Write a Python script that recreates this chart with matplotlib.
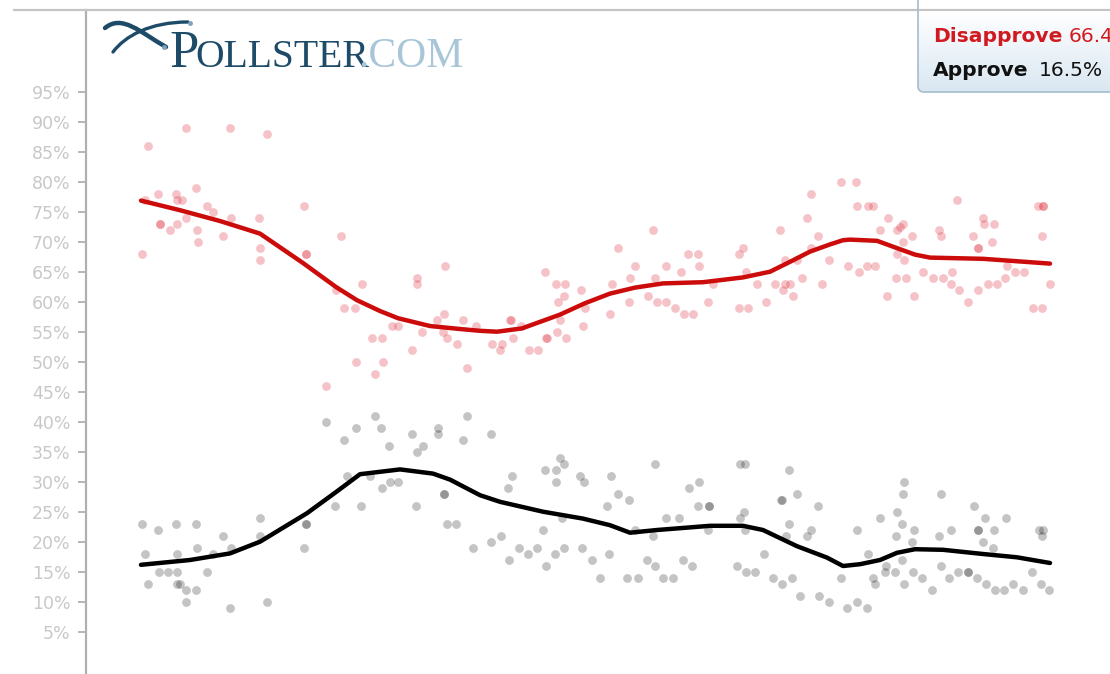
import matplotlib
matplotlib.use("Agg")
import matplotlib.pyplot as plt
import numpy as np
from matplotlib.patches import FancyBboxPatch, PathPatch
from matplotlib.path import Path
from matplotlib.colors import LinearSegmentedColormap

# ---------------- data (day index, percent) ----------------
disapprove_days = [62, 100, 144, 181, 56, 59, 72, 90, 91, 96, 110, 121, 127, 74, 74, 84, 91, 100, 111, 112,
                   137, 145, 173, 174, 174, 218, 220, 220, 255, 276, 250, 258, 269, 286, 296, 306, 312, 270,
                   297, 289, 240, 326, 331, 331, 336, 359, 351, 358, 357, 361, 371, 377, 381, 390,
                   406, 416, 414, 424, 425, 435, 427, 443, 452, 459, 460, 461, 471, 480, 470, 479, 478, 472,
                   474, 495, 497, 499, 524, 526, 532, 544, 543, 549, 562, 567, 569, 571, 580, 580, 589, 595,
                   598, 607, 602, 612, 613, 622, 627, 653, 657, 660, 653, 662, 671, 680, 689, 694, 697, 699,
                   704, 699, 707, 711, 716, 721, 725, 725, 732, 736, 743, 755, 762,
                   770, 771, 782, 787, 773, 781, 789, 802, 794, 811, 814, 817, 817, 826, 811, 818, 810, 820,
                   801, 828, 837, 847, 857, 853, 855, 866, 865, 871, 873, 882, 887, 892, 892, 892, 897, 898,
                   908, 906, 902, 911, 919, 921, 929, 938, 947, 956, 952, 957, 957, 956, 964]
disapprove_vals = [86, 89, 89, 88, 68, 77, 78, 78, 77, 77, 79, 76, 75, 73, 73, 72, 73, 74, 72, 70,
                   71, 74, 74, 69, 67, 76, 68, 68, 71, 63, 62, 59, 59, 54, 54, 56, 56, 50,
                   50, 48, 46, 52, 64, 63, 55, 66, 57, 58, 55, 54, 53, 57, 49, 56,
                   53, 53, 52, 57, 57, 56, 54, 52, 52, 65, 54, 54, 55, 54, 63, 63, 61, 60,
                   57, 62, 56, 59, 58, 63, 69, 64, 60, 66, 61, 72, 64, 60, 60, 66, 59, 65,
                   58, 58, 68, 68, 66, 60, 63, 68, 69, 65, 59, 59, 63, 60, 63, 72, 62, 63,
                   63, 67, 61, 67, 64, 74, 78, 69, 71, 63, 67, 80, 66,
                   80, 76, 76, 76, 65, 66, 66, 74, 72, 72, 72.5, 73, 70, 71, 68, 67, 64, 64,
                   61, 61, 65, 64, 64, 72, 71, 65, 63, 77, 62, 60, 71, 69, 69, 62, 74, 73,
                   73, 70, 63, 63, 64, 66, 65, 65, 59, 59, 76, 76, 76, 71, 63]

approve_days = [56, 72, 90, 110, 59, 62, 73, 82, 91, 91, 91, 94, 100, 110, 100, 111, 121, 127, 137, 145,
                144, 174, 174, 181, 218, 220, 220, 240, 249, 258, 261, 270, 275, 284, 289, 295, 296, 303,
                304, 312, 326, 330, 331, 337, 352, 352, 358, 358, 361, 370, 377, 381, 387,
                405, 426, 422, 405, 415, 423, 433, 442, 451, 457, 460, 459, 470, 474, 478, 470, 469, 478,
                476, 494, 498, 496, 506, 514, 521, 523, 525, 532, 543, 541, 552, 549, 561, 567, 569, 569,
                580, 577, 587, 593, 597, 603, 613, 606, 612, 623, 623, 622, 651, 654, 659, 654, 658, 659,
                660, 669, 678, 687, 695, 696, 696, 700, 703, 703, 706, 711, 721, 725, 732, 714, 733, 743,
                755, 761,
                771, 781, 771, 782, 787, 789, 794, 800, 799, 809, 811, 816, 817, 818, 810, 826, 828, 816,
                818, 827, 836, 846, 853, 855, 865, 855, 863, 872, 882, 882, 888, 891, 892, 892, 899, 897,
                907, 908, 900, 909, 918, 920, 927, 937, 946, 953, 957, 956, 955, 963]
approve_vals = [23, 22, 23, 23, 18, 13, 15, 15, 15, 18, 13, 13, 12, 12, 10, 19, 15, 18, 21, 19,
                9, 24, 21, 10, 19, 23, 23, 40, 26, 37, 31, 39, 26, 31, 41, 39, 29, 36,
                30, 30, 38, 26, 35, 36, 39, 38, 28, 28, 23, 23, 37, 41, 19,
                38, 31, 29, 20, 21, 17, 19, 18, 19, 22, 16, 32, 32, 34, 33, 30, 18, 19,
                24, 31, 30, 19, 17, 14, 26, 18, 31, 28, 27, 14, 14, 22, 17, 21, 16, 33,
                24, 14, 14, 24, 17, 29, 30, 16, 26, 26, 26, 22, 16, 33, 33, 24, 25, 22,
                15, 15, 18, 14, 27, 27, 13, 21, 32, 23, 14, 28, 21, 22, 26, 11, 11, 10,
                14, 9,
                10, 9, 22, 18, 14, 13, 24, 16, 15, 15, 25, 23, 28, 30, 21, 20, 22, 17,
                13, 15, 14, 12, 21, 28, 22, 16, 14, 15, 15, 15, 26, 14, 22, 22, 24, 20,
                19, 22, 13, 12, 12, 24, 13, 12, 15, 22, 22, 21, 13, 12]

disapprove_trend_days = [55, 94, 134, 174, 217, 250, 271, 294, 312, 344, 374, 394, 411, 436, 474, 499, 524,
                         549, 577, 617, 657, 684, 704, 724, 744, 757, 764, 791, 814, 829, 844, 897, 964]
disapprove_trend = [76.9, 75.3, 73.5, 71.4, 66.5, 62.5, 60.3, 58.5, 57.3, 56.0, 55.5, 55.2, 55.05, 55.6,
                    57.9, 59.8, 61.4, 62.4, 63.1, 63.3, 64.1, 65.05, 66.7, 68.4, 69.6, 70.3, 70.4, 70.2,
                    68.8, 67.9, 67.4, 67.2, 66.4]

approve_trend_days = [55, 104, 144, 174, 221, 249, 274, 314, 347, 364, 394, 414, 457, 497, 524, 544, 571,
                      624, 657, 677, 711, 741, 757, 774, 794, 811, 829, 857, 897, 931, 964]
approve_trend = [16.2, 17.0, 18.1, 20.05, 24.8, 28.2, 31.3, 32.1, 31.4, 30.4, 27.8, 26.7, 25.05, 23.9,
                 22.8, 21.55, 22.0, 22.7, 22.7, 22.0, 19.3, 17.4, 16.0, 16.3, 17.0, 18.2, 18.8, 18.7,
                 18.0, 17.45, 16.5]

ytick_vals = list(range(5, 100, 5))
ytick_labels = [f"{v}%" for v in ytick_vals]

legend_names = ["Disapprove", "Approve"]
legend_values = ["66.4%", "16.5%"]

# ---------------- figure ----------------
W, H = 1110, 674
fig = plt.figure(figsize=(W / 100, H / 100), dpi=100)
fig.patch.set_facecolor("white")

ax = fig.add_axes([86 / W, 0, (W - 86) / W, (H - 10) / H])
ax.set_xlim(0, W - 86)
ax.set_ylim(-2, 108.67)
for s in ["top", "right", "bottom"]:
    ax.spines[s].set_visible(False)
ax.spines["left"].set_color("#b0b0b0")
ax.spines["left"].set_linewidth(1.6)
ax.set_xticks([])
ax.set_yticks(ytick_vals)
ax.set_yticklabels(ytick_labels, family="DejaVu Sans", fontsize=12.5, color="#c8c8c8")
ax.tick_params(axis="y", length=6, width=1.3, color="#b0b0b0", pad=5)

RED = "#cc0b0b"
ax.scatter(disapprove_days, disapprove_vals, s=40, color="#dc2233", alpha=0.27, linewidths=0, zorder=2)
ax.scatter(approve_days, approve_vals, s=40, color="#000000", alpha=0.23, linewidths=0, zorder=2)
ax.plot(disapprove_trend_days, disapprove_trend, color=RED, lw=3.2, solid_capstyle="round",
        solid_joinstyle="round", zorder=3)
ax.plot(approve_trend_days, approve_trend, color="black", lw=3.2, solid_capstyle="round",
        solid_joinstyle="round", zorder=3)

# ---------------- overlay (pixel coordinates) ----------------
ov = fig.add_axes([0, 0, 1, 1], zorder=5)
ov.set_xlim(0, W)
ov.set_ylim(H, 0)
ov.axis("off")
ov.patch.set_alpha(0)

# top rule
ov.plot([13, W], [10, 10], color="#c4c4c4", lw=1.6, solid_capstyle="butt")

# logo swoosh
teal = "#1d4b68"
pA = Path([(105, 28), (122, 14), (140, 32), (166, 47)],
          [Path.MOVETO, Path.CURVE4, Path.CURVE4, Path.CURVE4])
pB = Path([(113, 52), (125, 36), (150, 22), (188, 22)],
          [Path.MOVETO, Path.CURVE4, Path.CURVE4, Path.CURVE4])
ov.add_patch(PathPatch(pA, fill=False, ec=teal, lw=3.2, capstyle="round"))
ov.add_patch(PathPatch(pB, fill=False, ec=teal, lw=2.4, capstyle="round"))
ov.plot([190, 164], [23, 47], "o", color="#7fa3bb", ms=2.5)

# logo text
ov.text(169, 67, "P", family="Liberation Serif", fontsize=38, color=teal, va="baseline", ha="left")
ov.text(195, 67, "OLLSTER", family="Liberation Serif", fontsize=28.5, color=teal, va="baseline", ha="left")
ov.text(358, 67, ".COM", family="Liberation Serif", fontsize=30, color="#a9c6d9", va="baseline", ha="left")

# legend box with gradient
box = FancyBboxPatch((918, -10), 220, 102, boxstyle="round,pad=0,rounding_size=6",
                     fc="none", ec="#a7bccc", lw=1.2, zorder=6)
ov.add_patch(box)
grad = np.linspace(0, 1, 100)[:, None]
cmap = LinearSegmentedColormap.from_list("g", ["#ffffff", "#d9e7f2"])
im = ov.imshow(grad, cmap=cmap, extent=[918, 1138, 92, 11], aspect="auto", zorder=5,
               interpolation="bilinear")
im.set_clip_path(box)

ov.text(933, 42, legend_names[0], family="DejaVu Sans", fontweight="bold", fontsize=14.6,
        color="#d01a1f", va="baseline", ha="left", zorder=7)
ov.text(1069, 42, legend_values[0], family="DejaVu Sans", fontsize=14.6,
        color="#d01a1f", va="baseline", ha="left", zorder=7)
ov.text(933, 76, legend_names[1], family="DejaVu Sans", fontweight="bold", fontsize=14.6,
        color="#111111", va="baseline", ha="left", zorder=7)
ov.text(1039, 76, legend_values[1], family="DejaVu Sans", fontsize=14.6,
        color="#111111", va="baseline", ha="left", zorder=7)

fig.savefig("out.png", dpi=100)
